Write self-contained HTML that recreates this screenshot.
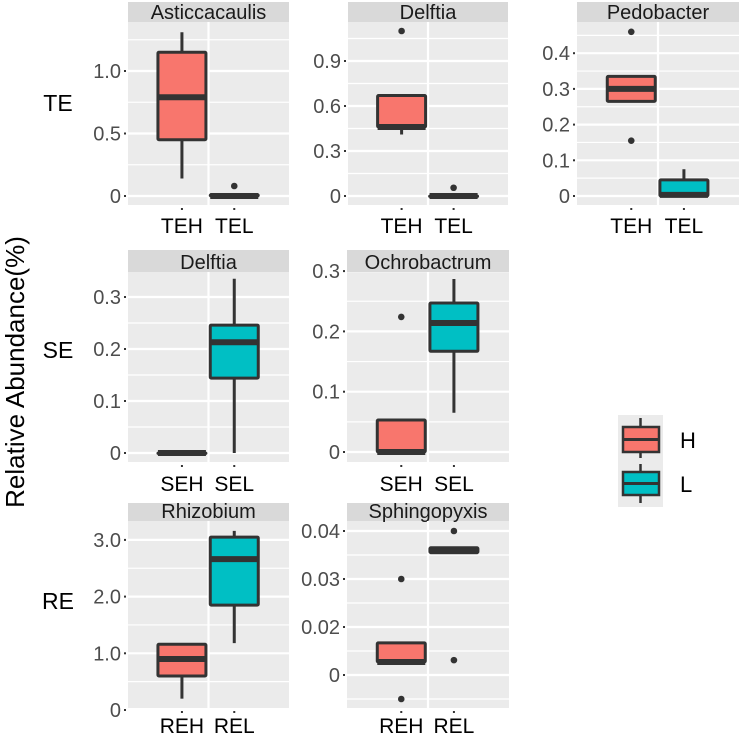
<!DOCTYPE html>
<html><head><meta charset="utf-8"><style>
html,body{margin:0;padding:0;background:#fff;overflow:hidden;}
svg{display:block;font-family:"Liberation Sans",Arial,sans-serif;}
</style></head><body>
<svg id="chart" width="742" height="738" viewBox="0 0 742 738" xmlns="http://www.w3.org/2000/svg">
<text x="0" y="0" transform="translate(24,372) rotate(-90)" text-anchor="middle" font-size="26" fill="#000">Relative Abundance(%)</text>
<text x="58" y="111" text-anchor="middle" font-size="23" fill="#000">TE</text>
<text x="58" y="358" text-anchor="middle" font-size="23" fill="#000">SE</text>
<text x="58" y="609" text-anchor="middle" font-size="23" fill="#000">RE</text>
<g>
<rect x="618" y="415" width="45" height="92" fill="#ebebeb"/>
<g>
<line x1="640.5" y1="418" x2="640.5" y2="458" stroke="#333" stroke-width="2.5"/>
<rect x="623" y="427" width="36" height="25" fill="#F8766D" stroke="#333" stroke-width="2.5"/>
<line x1="623" y1="439.5" x2="659" y2="439.5" stroke="#333" stroke-width="3"/>
<text x="680" y="448" font-size="22" fill="#000">H</text>
</g>
<g>
<line x1="640.5" y1="464" x2="640.5" y2="503" stroke="#333" stroke-width="2.5"/>
<rect x="623" y="472" width="36" height="23" fill="#00BFC4" stroke="#333" stroke-width="2.5"/>
<line x1="623" y1="483.5" x2="659" y2="483.5" stroke="#333" stroke-width="3"/>
<text x="680" y="492" font-size="22" fill="#000">L</text>
</g>
</g>
</svg>
<script>
// ---- data (one entry per panel) ----
const panelTitles = ["Asticcacaulis","Delftia","Pedobacter","Delftia","Ochrobactrum","Rhizobium","Sphingopyxis"];
const panelCategories = [["TEH","TEL"],["TEH","TEL"],["TEH","TEL"],["SEH","SEL"],["SEH","SEL"],["REH","REL"],["REH","REL"]];
const whiskerLow = [[0.14,0],[0.41,0],[0.265,0],[0,0],[0,0.065],[0.2,1.18],[0.0127,0.0355]];
const quartile1 = [[0.45,0],[0.46,0],[0.265,0],[0,0.144],[0,0.167],[0.6,1.85],[0.0127,0.0355]];
const medians = [[0.79,0],[0.46,0],[0.30,0.003],[0,0.213],[0,0.214],[0.9,2.66],[0.0127,0.0358]];
const quartile3 = [[1.15,0.01],[0.67,0],[0.335,0.045],[0,0.246],[0.053,0.247],[1.16,3.05],[0.0167,0.0365]];
const whiskerHigh = [[1.31,0.01],[0.67,0],[0.335,0.075],[0,0.335],[0.053,0.287],[1.16,3.16],[0.0167,0.0365]];
const outliers = [[[],[0.08]],[[1.1],[0.055]],[[0.46,0.155],[]],[[],[]],[[0.224],[]],[[],[]],[[0.03,0.005],[0.04,0.0131]]];
const tickValues = [[0,0.5,1.0],[0,0.3,0.6,0.9],[0,0.1,0.2,0.3,0.4],[0,0.1,0.2,0.3],[0,0.1,0.2,0.3],[0,1,2,3],[0.01,0.02,0.03,0.04]];
const tickLabels = [["0","0.5","1.0"],["0","0.3","0.6","0.9"],["0","0.1","0.2","0.3","0.4"],["0","0.1","0.2","0.3"],["0","0.1","0.2","0.3"],["0","1.0","2.0","3.0"],["0","0.02","0.03","0.04"]];

// ---- layout (pixels; not data) ----
const layout = [
 {x0:128,x1:289,top:22,bot:205,stripTop:2,refV:0,refY:196,pxPer:125,lab:225,name:"te-asticcacaulis"},
 {x0:348,x1:508,top:22,bot:205,stripTop:2,refV:0,refY:196,pxPer:150,lab:225,name:"te-delftia"},
 {x0:577,x1:739,top:22,bot:205,stripTop:2,refV:0,refY:196,pxPer:357,lab:225,name:"te-pedobacter"},
 {x0:128,x1:289,top:272,bot:462,stripTop:250,refV:0,refY:453,pxPer:520,lab:483,name:"se-delftia"},
 {x0:347,x1:509,top:272,bot:462,stripTop:250,refV:0,refY:452,pxPer:603,lab:483,name:"se-ochrobactrum"},
 {x0:128,x1:289,top:521,bot:708,stripTop:503,refV:0,refY:710,pxPer:56.7,lab:725,name:"re-rhizobium"},
 {x0:347,x1:509,top:521,bot:708,stripTop:503,refV:0.04,refY:531,pxPer:4800,lab:725,name:"re-sphingopyxis"}
];
const fills = ["#F8766D","#00BFC4"];
const NS = "http://www.w3.org/2000/svg";
const svg = document.getElementById("chart");
function mk(tag, attrs, parent){
  const e = document.createElementNS(NS, tag);
  for (const k in attrs) e.setAttribute(k, attrs[k]);
  (parent||svg).appendChild(e);
  return e;
}
layout.forEach((L, p) => {
  const yScale = v => L.refY - (v - L.refV) * L.pxPer;
  const w = L.x1 - L.x0;
  const xScale = i => L.x0 + w * (i === 0 ? 0.335 : 0.66);
  const g = mk("g", {});
  
  
  const cid = "clip" + p;
  const cp = mk("clipPath", {id: cid}, g);
  mk("rect", {x: L.x0, y: L.top, width: w, height: L.bot - L.top}, cp);
  const bg = mk("rect", {x: L.x0, y: L.top, width: w, height: L.bot - L.top, fill: "#ebebeb"}, g);
  
  
  const strip = mk("rect", {x: L.x0, y: L.stripTop, width: w, height: L.top - L.stripTop, fill: "#d9d9d9"}, g);
  
  
  const st = mk("text", {x: (L.x0 + L.x1) / 2, y: L.top - 3, "text-anchor": "middle", "font-size": 20, fill: "#1a1a1a"}, g);
  st.textContent = panelTitles[p];
  
  
  const grid = mk("g", {"clip-path": "url(#" + cid + ")"}, g);
  const tv = tickValues[p];
  const step = tv[1] - tv[0];
  for (let k = -4; k < tv.length + 4; k++) {
    const vMaj = tv[0] + k * step;
    const vMin = vMaj + step / 2;
    const gm = mk("line", {x1: L.x0, x2: L.x1, y1: yScale(vMin), y2: yScale(vMin), stroke: "#fff", "stroke-width": 1.2}, grid);
    
    
    const gM = mk("line", {x1: L.x0, x2: L.x1, y1: yScale(vMaj), y2: yScale(vMaj), stroke: "#fff", "stroke-width": 2.2}, grid);
    
    
  }
  const vg = mk("line", {x1: (L.x0 + L.x1) / 2, x2: (L.x0 + L.x1) / 2, y1: L.top, y2: L.bot, stroke: "#fff", "stroke-width": 2.2}, grid);
  
  
  tv.forEach((v, i) => {
    const y = yScale(v);
    const t = mk("text", {x: L.x0 - 7, y: y + 7, "text-anchor": "end", "font-size": 20, fill: "#4d4d4d"}, g);
    t.textContent = tickLabels[p][i];
    
    
    mk("line", {x1: L.x0 - 4, x2: L.x0 - 2, y1: y, y2: y, stroke: "#333", "stroke-width": 2}, g);
  });
  panelCategories[p].forEach((c, i) => {
    const cx = xScale(i);
    const hw = 24;
    const bx = mk("g", {"clip-path": "url(#" + cid + ")"}, g);
    
    
    mk("line", {x1: cx, x2: cx, y1: yScale(whiskerLow[p][i]), y2: yScale(whiskerHigh[p][i]), stroke: "#333", "stroke-width": 3}, bx);
    const yq3 = yScale(quartile3[p][i]), yq1 = yScale(quartile1[p][i]);
    mk("rect", {x: cx - hw, y: yq3, width: 2 * hw, height: Math.max(yq1 - yq3, 0.5), fill: fills[i], stroke: "#333", "stroke-width": 3, rx: 1}, bx);
    const ym = yScale(medians[p][i]);
    mk("line", {x1: cx - hw, x2: cx + hw, y1: ym, y2: ym, stroke: "#333", "stroke-width": 6}, bx);
    outliers[p][i].forEach(o => {
      const d = mk("circle", {cx: cx, cy: yScale(o), r: 3.3, fill: "#333"}, bx);
      
      
    });
    mk("line", {x1: cx, x2: cx, y1: L.bot + 3, y2: L.bot + 5, stroke: "#333", "stroke-width": 2}, g);
    const xl = mk("text", {x: cx, y: L.lab + 8, "text-anchor": "middle", "font-size": 21, fill: "#000"}, g);
    xl.textContent = c;
    
    
  });
});
</script>
</body></html>
